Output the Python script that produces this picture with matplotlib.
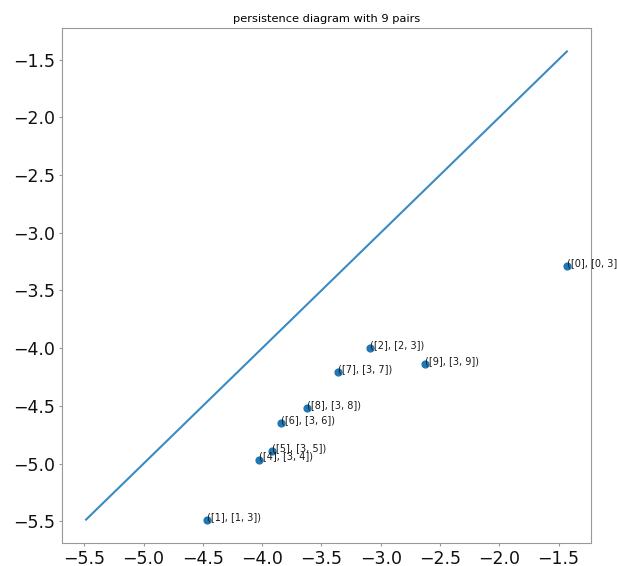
import matplotlib
matplotlib.use("Agg")
import matplotlib.pyplot as plt

# persistence pairs: (birth, death) with index labels
pair_labels = ["([0], [0, 3])", "([1], [1, 3])", "([2], [2, 3])", "([9], [3, 9])",
               "([7], [3, 7])", "([8], [3, 8])", "([6], [3, 6])", "([5], [3, 5])",
               "([4], [3, 4])"]
births = [-1.429, -4.466, -3.088, -2.629, -3.359, -3.623, -3.841, -3.919, -4.024]
deaths = [-3.290, -5.485, -4.002, -4.135, -4.210, -4.522, -4.647, -4.893, -4.965]

fig = plt.figure(figsize=(6.17, 5.66), dpi=100)
ax = fig.add_axes([0.1005, 0.0406, 0.8573, 0.9099])

lo = min(births + deaths)
hi = max(births + deaths)
ax.plot([lo, hi], [lo, hi], color="#3a8bc4", lw=1.5)
ax.scatter(births, deaths, s=24, color="#1f77b4", zorder=3)
for b, d, lab in zip(births, deaths, pair_labels):
    ax.text(b, d, lab, fontsize=7.0, color="#1a1a1a", ha="left", va="baseline")

ax.set_title("persistence diagram with 9 pairs", fontsize=8.2, pad=4)
ax.tick_params(labelsize=12.5, colors="#111111", length=2.5, pad=2.2)
for sp in ax.spines.values():
    sp.set_color("#999999")
ax.tick_params(axis="both", color="#999999")

fig.savefig("out.png", dpi=100)
